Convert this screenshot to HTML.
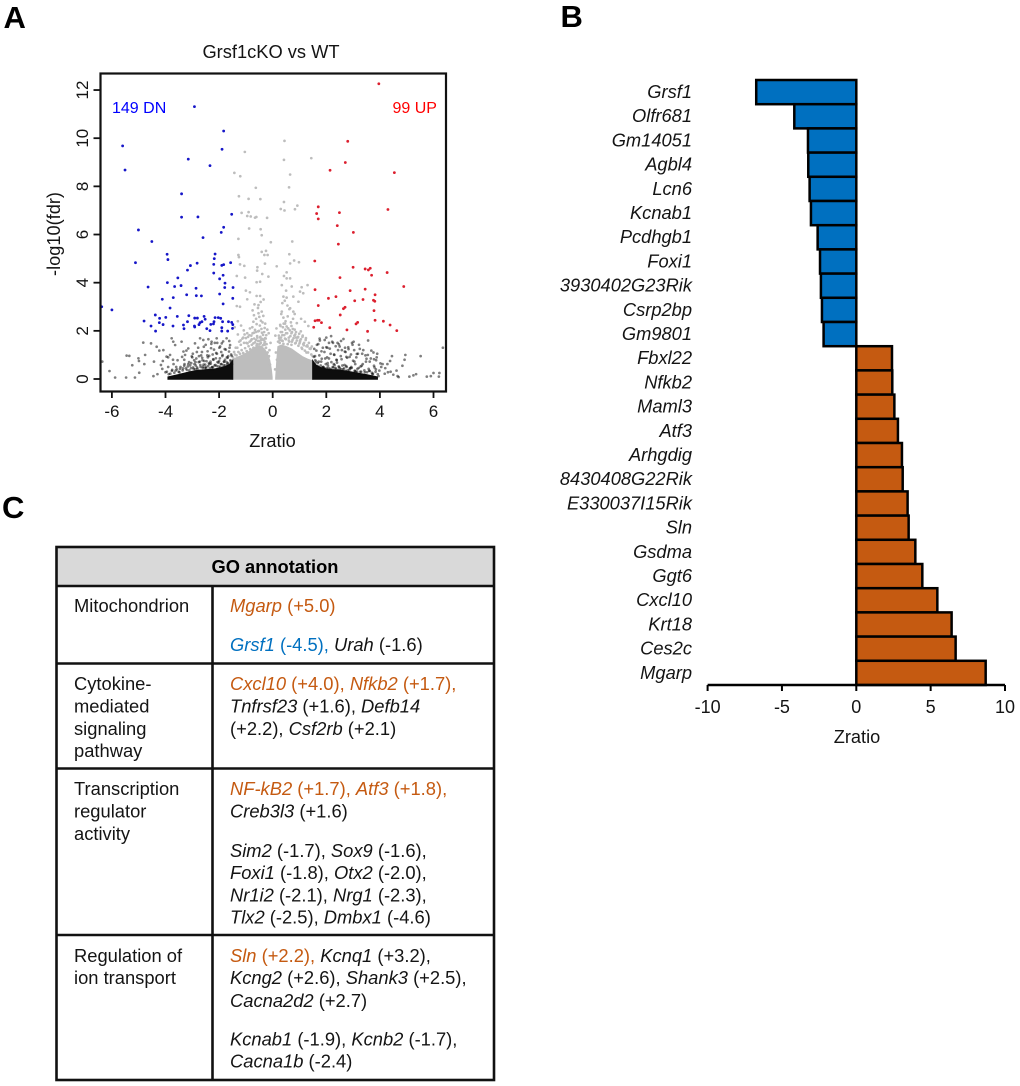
<!DOCTYPE html>
<html lang="en">
<head>
<meta charset="utf-8">
<title>Grsf1cKO vs WT figure</title>
<style>
html,body{margin:0;padding:0;background:#fff;width:1020px;height:1086px;overflow:hidden}
svg{display:block;font-family:"Liberation Sans",Arial,sans-serif}
text{fill:#141414}
.t{font-size:18.35px}
.o{fill:#c55a11}
.b{fill:#0070c0}
.i{font-style:italic}
.panel{font-size:31px;font-weight:bold;fill:#000}
</style>
</head>
<body>
<svg id="fig" width="1020" height="1086" viewBox="0 0 1020 1086" xmlns="http://www.w3.org/2000/svg">
  <rect width="1020" height="1086" fill="#fff"/>
  <text class="panel" x="3.5" y="28">A</text>
  <text class="panel" x="560.5" y="27">B</text>
  <text class="panel" x="2" y="518">C</text>

  <!-- Panel A -->
  <g id="volcano">
    <g id="volcano-marks"></g>
    <rect x="100.5" y="73.5" width="345.5" height="318" fill="none" stroke="#111" stroke-width="2.2"/>
    <g id="volcano-axes"></g>
    <text x="271" y="58" text-anchor="middle" font-size="18.3">Grsf1cKO vs WT</text>
    <text x="272.5" y="447" text-anchor="middle" font-size="18.2">Zratio</text>
    <text x="60" y="234" text-anchor="middle" font-size="18.2" transform="rotate(-90 60 234)">-log10(fdr)</text>
    <text x="112" y="113" font-size="16" style="fill:#0000ff">149 DN</text>
    <text x="392.5" y="113" font-size="16" style="fill:#ff0000">99 UP</text>
  </g>

  <!-- Panel B -->
  <g id="bars">
    <g id="bar-marks"></g>
    <g id="bar-axes"></g>
    <text x="857" y="743" text-anchor="middle" font-size="18.2">Zratio</text>
  </g>

  <!-- Panel C -->
  <g id="go-table">
    <rect x="56.5" y="547" width="437.5" height="39" fill="#d9d9d9"/>
    <g stroke="#111" stroke-width="2.6" fill="none">
      <rect x="56.5" y="547" width="437.5" height="533"/>
      <line x1="56.5" y1="586" x2="494" y2="586"/>
      <line x1="56.5" y1="663.5" x2="494" y2="663.5"/>
      <line x1="56.5" y1="768.5" x2="494" y2="768.5"/>
      <line x1="56.5" y1="935" x2="494" y2="935"/>
      <line x1="212.5" y1="586" x2="212.5" y2="1080"/>
    </g>
    <text x="275" y="573" text-anchor="middle" font-size="18.3" font-weight="bold" style="fill:#000">GO annotation</text>

    <g class="t">
      <text x="74" y="612">Mitochondrion</text>
      <text x="74" y="690">Cytokine-<tspan x="74" y="712.5">mediated</tspan><tspan x="74" y="735">signaling</tspan><tspan x="74" y="757">pathway</tspan></text>
      <text x="74" y="795">Transcription<tspan x="74" y="817.5">regulator</tspan><tspan x="74" y="840">activity</tspan></text>
      <text x="74" y="962">Regulation of<tspan x="74" y="984">ion transport</tspan></text>
    </g>

    <g class="t">
      <text x="230" y="612"><tspan class="o i">Mgarp</tspan><tspan class="o"> (+5.0)</tspan></text>
      <text x="230" y="651"><tspan class="b i">Grsf1</tspan><tspan class="b"> (-4.5), </tspan><tspan class="i">Urah</tspan> (-1.6)</text>

      <text x="230" y="690"><tspan class="o i">Cxcl10</tspan><tspan class="o"> (+4.0), </tspan><tspan class="o i">Nfkb2</tspan><tspan class="o"> (+1.7),</tspan></text>
      <text x="230" y="712.5"><tspan class="i">Tnfrsf23</tspan> (+1.6), <tspan class="i">Defb14</tspan></text>
      <text x="230" y="735">(+2.2), <tspan class="i">Csf2rb</tspan> (+2.1)</text>

      <text x="230" y="795"><tspan class="o i">NF-kB2</tspan><tspan class="o"> (+1.7), </tspan><tspan class="o i">Atf3</tspan><tspan class="o"> (+1.8),</tspan></text>
      <text x="230" y="817.5"><tspan class="i">Creb3l3</tspan> (+1.6)</text>
      <text x="230" y="857"><tspan class="i">Sim2</tspan> (-1.7), <tspan class="i">Sox9</tspan> (-1.6),</text>
      <text x="230" y="879"><tspan class="i">Foxi1</tspan> (-1.8), <tspan class="i">Otx2</tspan> (-2.0),</text>
      <text x="230" y="901.5"><tspan class="i">Nr1i2</tspan> (-2.1), <tspan class="i">Nrg1</tspan> (-2.3),</text>
      <text x="230" y="923.5"><tspan class="i">Tlx2</tspan> (-2.5), <tspan class="i">Dmbx1</tspan> (-4.6)</text>

      <text x="230" y="962"><tspan class="o i">Sln</tspan><tspan class="o"> (+2.2), </tspan><tspan class="i">Kcnq1</tspan> (+3.2),</text>
      <text x="230" y="984"><tspan class="i">Kcng2</tspan> (+2.6), <tspan class="i">Shank3</tspan> (+2.5),</text>
      <text x="230" y="1007"><tspan class="i">Cacna2d2</tspan> (+2.7)</text>
      <text x="230" y="1045.5"><tspan class="i">Kcnab1</tspan> (-1.9), <tspan class="i">Kcnb2</tspan> (-1.7),</text>
      <text x="230" y="1067.5"><tspan class="i">Cacna1b</tspan> (-2.4)</text>
    </g>
  </g>
</svg>

<script>
/* ---------- Panel A data ---------- */
const volcanoXTicks = [-6, -4, -2, 0, 2, 4, 6];
const volcanoYTicks = [0, 2, 4, 6, 8, 10, 12];

const blueZ = [-2.92,-1.83,-5.6,-1.89,-5.51,-3.15,-2.34,-3.4,-3.4,-2.79,-1.53,-1.83,-1.92,-5.01,-2.6,
  -4.51,-3.94,-3.91,-5.12,-2.15,-2.18,-3.07,-2.82,-3.18,-2.2,-1.9,-1.83,-1.57,-2.2,-1.85,-1.98,-3.54,-3.93,-4.65,-3.66,-3.42,-1.78,-1.79,-1.48,-2.86,-3.21,-2.85,-2.66,-1.98,-1.49,-4.12,-3.71,-1.85,-3.83,-6.0,-6.38,
  -4.38,-4.22,-3.99,-4.8,-4.23,-4.09,-4.54,-4.37,-3.72,-3.56,-3.13,-3.18,-3.33,-3.31,-2.91,-2.81,-2.56,-2.52,-2.64,-2.71,-2.75,-2.92,-2.91,-2.46,-2.31,-2.21,-2.34,-2.15,-2.03,-1.94,-2.19,-1.87,-1.65,-1.53,-1.49,-1.9,-1.9,-1.68,-1.5];
const blueFdr = [11.31,10.3,9.68,9.54,8.68,9.13,8.86,7.69,6.72,6.73,6.84,6.3,6.09,6.19,5.87,
  5.71,5.18,4.96,4.83,5.19,5.0,4.71,4.81,4.52,4.76,4.72,4.75,4.83,4.4,4.31,4.16,4.2,4.0,3.82,3.84,3.88,3.98,3.8,3.8,3.77,3.5,3.46,3.45,3.53,3.35,3.31,3.38,3.12,2.95,2.87,3.0,
  2.66,2.52,2.56,2.41,2.34,2.26,2.2,1.99,2.2,2.6,2.63,2.38,2.24,2.09,2.53,2.53,2.6,2.48,2.38,2.34,2.26,2.2,2.16,2.09,2.27,2.29,2.01,2.55,2.55,2.52,2.38,2.38,2.38,2.35,2.26,2.13,1.99,1.99,2.1];

const redZ = [3.96,2.8,2.71,2.14,4.54,1.7,1.64,2.49,1.7,4.3,2.41,3.01,
  2.45,1.57,3.0,3.45,3.57,3.64,3.69,4.27,2.51,4.89,1.58,2.89,3.45,3.82,2.08,2.36,3.06,3.37,3.76,3.81,1.7,2.7,2.64,3.78,2.52,3.82,4.13,1.58,1.67,1.73,1.82,3.17,3.11,4.38,1.53,2.13,2.77,3.54,4.63];
const redFdr = [12.26,9.87,8.99,8.67,8.57,7.15,6.87,6.91,6.65,7.04,6.37,6.09,
  5.6,4.9,4.64,4.57,4.53,4.6,4.31,4.42,4.21,3.84,3.71,3.67,3.73,3.5,3.35,3.42,3.25,3.3,3.27,3.23,3.05,2.98,2.92,2.84,2.66,2.44,2.4,2.42,2.44,2.44,2.34,2.35,2.29,2.24,2.15,2.13,2.04,1.98,2.01];

const grayZ = [-1.04,.44,.42,1.44,-1.43,-1.21,.65,-.63,.61,-1.26,-.9,-.46,.42,.92,.83,.3,.44,-1.16,-.9,-.95,-.82,-.66,-.61,-.21,-.88,-.45,-.41,-1.28,
  -.07,.73,-.25,-.41,-.19,-.31,-1.28,-1.26,.62,.8,.65,.98,-.29,.15,-1.22,-1.06,-.57,-.58,.52,-.39,.42,-.16,-1.34,-1.03,.52,.65,-.47,-.6,.34,.71,1.08,1.3,-1,-.85,.5,1.02,1.14,-.6,-.47,-.95,.4,.52,.77,.96,-1.34,-1.22,-.53,.65,-.53,-.41,.34,.77,
  -.7,-.62,-.5,-.44,-.35,-.28,-.72,-.6,-.48,-.38,-.3,-.2,-.85,-.76,-.66,-.55,-.42,-.32,-.24,-1.05,-.95,-.8,-.7,-.58,-.46,-.36,-.26,-1.3,-1.18,-1.08,-.92,-.78,-.62,-.5,-.38,-.29,-1.42,-1.3,-1.2,-1.1,-.98,-.86,-.72,-.58,-.44,-.3,
  .32,.4,.48,.56,.68,.76,.28,.38,.46,.58,.7,.82,.9,.3,.36,.5,.6,.72,.84,.95,1.05,.24,.34,.46,.62,.74,.88,1.02,1.12,1.24,.26,.4,.56,.7,.86,1.0,1.16,1.3,1.42,1.06,1.2,1.33,1.1,1.26,
  -.45,-.55,-.68,-.34,-.75,.45,.55,.62,.36,.82,-.12,-.16,.12,.16,-.1,.09,-.08,.1,-.15,.14];
const grayFdr = [9.43,9.89,9.1,9.17,8.56,8.42,8.49,7.94,7.96,7.59,7.48,7.47,7.35,7.2,7.05,7.06,7.0,6.9,6.93,6.77,6.75,6.7,6.73,6.69,6.25,6.22,5.97,5.82,
  5.68,5.71,5.32,5.28,5.15,5.15,5.15,5.06,5.18,4.92,4.8,4.85,4.79,4.68,4.76,4.7,4.64,4.5,4.43,4.36,4.28,4.25,4.28,4.21,4.18,4.18,4.04,4.02,3.9,3.84,3.81,3.9,3.67,3.6,3.67,3.63,3.56,3.45,3.45,3.31,3.42,3.38,3.42,3.21,3.03,3.0,3.07,2.94,2.73,2.8,2.8,2.8,
  2.65,2.5,2.58,2.42,2.62,2.3,2.38,2.28,2.22,2.35,2.12,2.05,2.1,2.15,2.04,1.98,2.08,1.95,1.82,1.85,1.9,1.8,1.92,1.78,1.72,1.83,1.68,2.4,2.22,2.02,1.75,1.65,1.62,1.58,1.66,1.55,2.15,1.85,1.6,1.72,1.5,1.55,1.48,1.45,1.5,1.42,
  2.7,2.55,2.4,2.6,2.35,2.5,2.25,2.15,2.3,2.1,2.2,2.05,2.32,1.95,1.82,1.9,1.72,1.95,1.85,1.75,1.98,1.7,1.6,1.68,1.55,1.62,1.72,1.6,1.8,1.7,1.5,1.46,1.45,1.42,1.5,1.48,1.4,1.35,1.28,2.5,2.38,2.2,1.25,1.1,
  3.2,2.95,3.1,3.3,2.85,3.25,3.05,2.9,3.15,2.7,1.2,.9,1.1,.8,.6,.4,1.5,1.8,1.9,2.1];

/* fuzzy rim of the central gray mass */
const grayRimZ = [-1.48,-1.41,-1.35,-1.28,-1.22,-1.16,-1.1,-1.03,-.97,-.9,-.84,-.78,-.72,-.66,-.6,-.54,-.49,-.43,-.37,-.31,-.25,-.19,-.14,-1.44,-1.32,-1.19,-1.07,-.94,-.81,-.69,-.57,-.46,-.34,-.23,-1.38,-1.25,-1.13,-1,-.87,-.75,-.63,-.51,-.4,-.28,
  .2,.26,.31,.37,.43,.49,.54,.6,.66,.72,.78,.84,.9,.96,1.02,1.08,1.14,1.2,1.26,1.32,1.38,1.44,1.49,.23,.35,.47,.58,.7,.81,.93,1.05,1.17,1.29,1.41,.29,.41,.52,.64,.75,.87,.99,1.11,1.23,1.35,1.46];
const grayRimFdr = [.9,1.02,.98,1.12,1.05,1.2,1.08,1.28,1.16,1.36,1.24,1.42,1.3,1.52,1.4,1.58,1.45,1.62,1.4,1.48,1.3,1.1,.95,1.12,1.3,1.42,1.5,1.48,1.6,1.68,1.72,1.75,1.62,1.45,1.3,1.55,1.68,1.7,1.82,1.9,1.95,2.0,1.92,1.7,
  1.55,1.62,1.72,1.58,1.82,1.65,1.9,1.6,1.78,1.55,1.7,1.48,1.6,1.38,1.55,1.3,1.45,1.18,1.36,1.1,1.26,1.02,.95,1.8,1.95,2.05,2.1,1.9,1.8,1.72,1.65,1.5,1.4,1.25,2.2,2.3,2.18,2.02,2.08,1.95,1.88,1.75,1.62,1.5,1.35];

const blackZ = [-6.36,-6.09,-5.88,-5.45,-5.35,-5.47,-5.24,-5.14,-5.01,-4.99,-4.98,-4.83,-4.76,-4.79,-4.54,-4.43,-4.45,-4.33,-4.23,-4.08,-4.17,-3.96,-3.83,-3.77,-3.71,-3.64,-3.4,-3.33,-3.27,-3.15,-2.9,-2.71,-2.59,-2.4,-2.28,-2.09,-1.9,-1.72,-1.59,
  -4.3,-4.12,-4.0,-3.9,-3.82,-3.7,-3.62,-3.55,-3.46,-3.38,-3.3,-3.22,-3.12,-3.05,-2.98,-2.92,-2.85,-2.78,-2.7,-2.64,-2.56,-2.5,-2.42,-2.36,-2.3,-2.22,-2.16,-2.08,-2.02,-1.96,-1.88,-1.82,-1.75,-1.68,-1.62,-1.55,
  -3.75,-3.6,-3.48,-3.35,-3.2,-3.08,-2.95,-2.82,-2.72,-2.6,-2.48,-2.38,-2.26,-2.14,-2.04,-1.93,-1.84,-1.72,-1.6,-1.52,
  -3.3,-3.15,-3.0,-2.88,-2.75,-2.62,-2.52,-2.44,-2.32,-2.24,-2.12,-2.0,-1.92,-1.78,-1.66,-1.56,
  -4.1,-3.9,-3.72,-3.58,-3.42,-3.25,-3.1,-2.95,-2.8,-2.66,-2.55,-2.45,-2.34,-2.2,-2.1,-1.98,-1.86,-1.76,-1.64,-1.54,
  6.35,5.52,5.25,5.1,5.35,6.0,6.22,6.2,5.75,5.9,4.95,4.92,4.84,4.7,4.66,4.62,4.5,4.45,4.38,4.3,4.28,4.18,4.05,3.95,3.9,3.85,3.78,3.72,3.62,3.55,3.44,3.32,3.25,3.15,3.05,2.96,2.85,2.75,2.62,2.5,2.4,2.22,2.1,2.0,1.88,1.75,1.62,1.55,
  1.6,1.72,1.85,1.96,2.06,2.16,2.28,2.38,2.48,2.58,2.68,2.78,2.88,2.98,3.08,3.18,3.28,3.38,3.48,3.58,3.68,3.78,3.88,3.98,4.1,
  1.55,1.66,1.78,1.9,2.02,2.14,2.26,2.36,2.46,2.56,2.66,2.76,2.86,2.95,3.06,3.16,3.3,3.42,3.52,3.62,3.74,3.84,3.92,
  1.58,1.7,1.82,1.94,2.04,2.18,2.3,2.42,2.54,2.64,2.72,2.82,2.92,3.02,3.12,3.22,3.34,3.46,3.56,3.66,3.76,3.86,4.02,4.2,4.4];
const blackFdr = [.72,.33,.06,.97,.96,.06,.57,.06,.86,.75,.26,1.51,1.0,.62,1.48,.72,.12,1.34,1.18,1.2,.58,.93,1.0,1.69,1.55,1.41,1.55,1.14,1.0,1.27,1.48,1.69,1.62,1.65,1.55,1.69,1.48,1.69,1.41,
  .2,.42,.28,.5,.22,.62,.35,.78,.42,.92,.55,1.18,.7,.45,1.05,.62,.85,1.3,.58,1.12,.75,1.42,.9,.62,1.28,.82,1.5,1.05,.68,1.35,.95,.72,1.22,.88,1.58,1.02,
  .38,.5,.28,.44,.38,.56,.42,.48,.72,.52,.44,.66,.5,.58,.42,.62,.5,.7,.54,.62,
  .8,.62,.9,.7,.95,.78,.6,.98,.72,1.02,.86,.75,1.12,.8,.95,.74,
  .75,.9,.8,.12,.18,.15,.2,.22,.16,.24,.28,.3,.32,.26,.34,.38,.42,.36,.44,.48,
  1.3,.95,.15,.1,.2,.25,.25,.1,.1,.12,1.0,.8,.55,.08,.12,.35,.18,.95,.75,.28,.62,.22,.5,.12,1.05,.4,.82,.2,.72,1.0,.15,.55,1.25,.3,.72,1.5,.22,.92,.28,1.35,.68,1.55,.85,1.32,.5,1.68,.72,1.25,
  .52,.72,.48,.85,.56,1.05,.62,.8,.5,1.2,.58,.88,.45,1.42,.62,1.05,.52,1.2,.72,.42,1.18,.55,.9,.35,.62,
  .36,.4,.42,.44,.46,.38,.48,.42,.52,.4,.44,.5,.38,.46,.34,.42,.3,.36,.28,.34,.22,.3,.2,
  .95,1.45,1.15,1.62,1.3,1.78,1.0,1.5,.95,1.66,1.12,1.32,1.02,1.55,.9,1.42,1.05,.98,1.6,.85,1.1,.78,.65,.45,.3];

/* denser dark cloud just above the solid black bands */
const blackCloudZ = [-3.95,-3.88,-3.76,-3.67,-3.58,-3.51,-3.44,-3.36,-3.29,-3.24,-3.17,-3.11,-3.04,-2.97,-2.93,-2.87,-2.81,-2.76,-2.69,-2.63,-2.58,-2.53,-2.47,-2.41,-2.37,-2.31,-2.27,-2.21,-2.17,-2.11,-2.06,-2.01,-1.97,-1.91,-1.87,-1.81,-1.77,-1.71,-1.67,-1.63,-1.58,-1.53,-2.89,-2.74,-2.61,-2.49,-2.35,-2.23,-2.09,-1.95,-1.83,-1.69,-1.56,-2.67,-2.43,-2.19,-1.99,-1.79,-1.61,-3.02,-2.83,-2.57,-2.29,-2.07,-1.85,
  1.54,1.59,1.63,1.68,1.74,1.79,1.83,1.89,1.93,1.98,2.03,2.09,2.13,2.19,2.24,2.29,2.34,2.39,2.44,2.51,2.57,2.63,2.69,2.74,2.8,2.87,2.93,3.0,3.07,3.14,3.21,3.27,3.36,3.44,3.5,3.6,3.7,3.8,1.57,1.69,1.81,1.92,2.05,2.17,2.31,2.45,2.6,2.73,2.9,3.1,1.65,1.87,2.1,2.35,2.55,2.83,3.04,1.76,2.0,2.25,2.47,2.7];
const blackCloudFdr = [.3,.2,.34,.26,.4,.3,.5,.36,.62,.44,.52,.36,.66,.48,.78,.56,.42,.7,.5,.88,.6,.46,.74,.54,.96,.64,.48,.8,.56,1.08,.7,.52,.86,.62,1.0,.72,.56,.9,.66,1.14,.78,.96,.4,.34,.46,.5,.44,.48,.54,.5,.58,.62,.66,.98,1.15,1.22,1.3,1.24,1.3,.94,1.12,1.34,1.46,1.5,1.56,
  .92,.78,1.18,.66,.98,.56,.84,.5,1.12,.62,.9,.46,1.26,.7,.5,1.02,.46,.78,1.2,.44,.82,.4,1.14,.54,.36,.92,.5,.76,.34,1.04,.46,.3,.62,.28,.84,.34,.26,.48,.62,.52,.72,.46,.66,.42,.58,.38,.56,.34,.44,.3,1.42,1.3,1.5,1.36,1.58,1.24,1.2,1.6,1.72,1.5,1.44,1.3];

/* density envelopes: z position and the -log10(fdr) reached by the solid fill */
const grayLeftZ = [-1.5,-1.3,-1.1,-0.9,-0.7,-0.55,-0.42,-0.3,-0.2,-0.12,-0.06,-0.03];
const grayLeftTop = [0.8,0.9,1.0,1.12,1.28,1.38,1.34,1.22,1.02,0.78,0.4,0.08];
const grayRightZ = [0.12,0.16,0.2,0.32,0.5,0.7,0.9,1.1,1.3,1.5];
const grayRightTop = [0.06,0.75,1.34,1.4,1.34,1.24,1.08,0.92,0.82,0.74];
const blackLeftZ = [-3.9,-3.5,-3.2,-3.0,-2.8,-2.6,-2.4,-2.2,-2.0,-1.8,-1.6,-1.5];
const blackLeftTop = [0.08,0.18,0.26,0.31,0.35,0.37,0.38,0.4,0.44,0.5,0.6,0.74];
const blackRightZ = [1.5,1.6,1.8,2.0,2.2,2.4,2.6,2.8,3.0,3.2,3.5,3.9];
const blackRightTop = [0.74,0.58,0.46,0.41,0.38,0.37,0.34,0.31,0.27,0.23,0.17,0.08];

/* ---------- Panel B data ---------- */
const barGenes = ["Grsf1","Olfr681","Gm14051","Agbl4","Lcn6","Kcnab1","Pcdhgb1","Foxi1","3930402G23Rik","Csrp2bp","Gm9801","Fbxl22","Nfkb2","Maml3","Atf3","Arhgdig","8430408G22Rik","E330037I15Rik","Sln","Gsdma","Ggt6","Cxcl10","Krt18","Ces2c","Mgarp"];
const barValues = [-6.73,-4.17,-3.25,-3.23,-3.14,-3.05,-2.6,-2.44,-2.38,-2.31,-2.2,2.4,2.42,2.56,2.8,3.07,3.12,3.45,3.52,3.97,4.44,5.45,6.41,6.68,8.7];
const barTicks = [-10,-5,0,5,10];

/* ---------- Drawing ---------- */
const NS = "http://www.w3.org/2000/svg";
function vx(z){ return 272.7 + z * 26.8; }
function vy(f){ return 379 - f * 24.08; }
function bx(z){ return 856.3 + z * 14.87; }
function by(i){ return 80 + i * 24.2; }

function make(tag, parent, attrs){
  const el = document.createElementNS(NS, tag);
  for (const k in attrs) el.setAttribute(k, attrs[k]);
  parent.appendChild(el);
  return el;
}

const marks = document.getElementById("volcano-marks");
const vAxes = document.getElementById("volcano-axes");
const barMarks = document.getElementById("bar-marks");
const barAxes = document.getElementById("bar-axes");

function envelopePath(zs, tops){
  let d = "M" + vx(zs[0]).toFixed(1) + " " + vy(0).toFixed(1);
  for (let i = 0; i < zs.length; i++) d += "L" + vx(zs[i]).toFixed(1) + " " + vy(tops[i]).toFixed(1);
  d += "L" + vx(zs[zs.length - 1]).toFixed(1) + " " + vy(0).toFixed(1) + "Z";
  return d;
}

const grayLeftBand = make("path", marks, {d: envelopePath(grayLeftZ, grayLeftTop), fill: "#bdbdbd", stroke: "#bdbdbd", "stroke-width": 1.5});


const grayRightBand = make("path", marks, {d: envelopePath(grayRightZ, grayRightTop), fill: "#bdbdbd", stroke: "#bdbdbd", "stroke-width": 1.5});



for (let i = 0; i < Math.min(grayZ.length, grayFdr.length); i++) {
  const c = make("circle", marks, {cx: vx(grayZ[i]), cy: vy(grayFdr[i]), r: 1.35, fill: "#bdbdbd"});
  
  
}
for (let i = 0; i < Math.min(grayRimZ.length, grayRimFdr.length); i++) {
  const c = make("circle", marks, {cx: vx(grayRimZ[i]), cy: vy(grayRimFdr[i]), r: 1.35, fill: "#bdbdbd"});
  
  
}
for (let i = 0; i < Math.min(blackZ.length, blackFdr.length); i++) {
  const c = make("circle", marks, {cx: vx(blackZ[i]), cy: vy(blackFdr[i]), r: 1.35, fill: "#000", "fill-opacity": 0.5});
  
  
}
for (let i = 0; i < Math.min(blackCloudZ.length, blackCloudFdr.length); i++) {
  const c = make("circle", marks, {cx: vx(blackCloudZ[i]), cy: vy(blackCloudFdr[i]), r: 1.35, fill: "#000", "fill-opacity": 0.5});
  
  
}

const blackLeftBand = make("path", marks, {d: envelopePath(blackLeftZ, blackLeftTop), fill: "#0d0d0d", stroke: "#0d0d0d", "stroke-width": 1.5});


const blackRightBand = make("path", marks, {d: envelopePath(blackRightZ, blackRightTop), fill: "#0d0d0d", stroke: "#0d0d0d", "stroke-width": 1.5});



for (let i = 0; i < Math.min(blueZ.length, blueFdr.length); i++) {
  const c = make("circle", marks, {cx: vx(blueZ[i]), cy: vy(blueFdr[i]), r: 1.4, fill: "#1616c8"});
  
  
}
for (let i = 0; i < Math.min(redZ.length, redFdr.length); i++) {
  const c = make("circle", marks, {cx: vx(redZ[i]), cy: vy(redFdr[i]), r: 1.4, fill: "#dc1f2e"});
  
  
}

volcanoXTicks.forEach(function(t){
  const tick = make("line", vAxes, {x1: vx(t), x2: vx(t), y1: 391.5, y2: 398, stroke: "#111", "stroke-width": 1.8});
  
  
  const lab = make("text", vAxes, {x: vx(t), y: 417, "text-anchor": "middle", "font-size": 17});
  
  
  lab.textContent = String(t);
});
volcanoYTicks.forEach(function(t){
  const tick = make("line", vAxes, {x1: 93.5, x2: 100.5, y1: vy(t), y2: vy(t), stroke: "#111", "stroke-width": 1.8});
  
  
  const lab = make("text", vAxes, {x: 88, y: vy(t), "text-anchor": "middle", "font-size": 17, transform: "rotate(-90 88 " + vy(t) + ")"});
  
  
  lab.textContent = String(t);
});

barValues.forEach(function(v, i){
  const r = make("rect", barMarks, {x: Math.min(bx(0), bx(v)), y: by(i), width: Math.abs(bx(v) - bx(0)), height: 24.2, fill: v < 0 ? "#0070c0" : "#c55a11", stroke: "#000", "stroke-width": 2.5});
  
  
  const lab = make("text", barAxes, {x: 692, y: by(i) + 18, "text-anchor": "end", "font-size": 18.3, "font-style": "italic"});
  
  
  lab.textContent = barGenes[i];
});

const barBaseline = make("line", barAxes, {x1: bx(-10), x2: bx(10), y1: 685, y2: 685, stroke: "#000", "stroke-width": 2.4});


barTicks.forEach(function(t){
  const tick = make("line", barAxes, {x1: bx(t), x2: bx(t), y1: 685, y2: 691, stroke: "#000", "stroke-width": 2});
  
  
  const lab = make("text", barAxes, {x: bx(t), y: 713, "text-anchor": "middle", "font-size": 18});
  
  
  lab.textContent = String(t);
});
</script>
</body>
</html>
